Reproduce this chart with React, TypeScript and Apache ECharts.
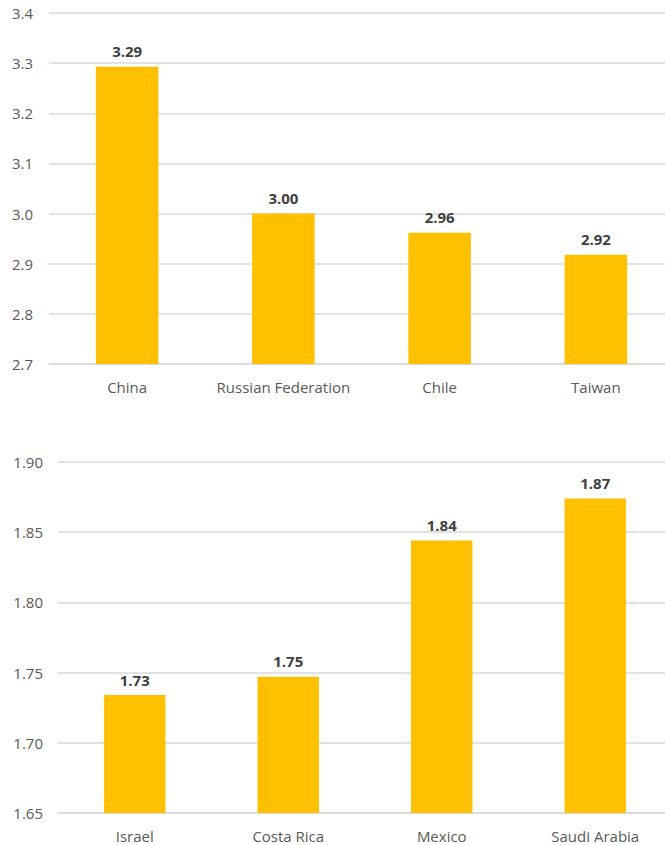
import React, { useEffect, useRef } from "react";
import * as echarts from "echarts";

const topCategories = ["China", "Russian Federation", "Chile", "Taiwan"];
const topValues = [3.293, 3.0, 2.962, 2.918];
const topTicks = { min: 2.7, max: 3.4, interval: 0.1 };

const bottomCategories = ["Israel", "Costa Rica", "Mexico", "Saudi Arabia"];
const bottomValues = [1.734, 1.747, 1.844, 1.874];
const bottomTicks = { min: 1.65, max: 1.9, interval: 0.05 };

const BAR_COLOR = "#FFC000";
const GRID_COLOR = "#D9D9D9";
const LABEL_COLOR = "#595959";
const FONT = "'Open Sans', 'Liberation Sans', sans-serif";

// The plot areas run slightly past the visible frame on the right,
// so the chart canvas is wider than the clipping frame around it.
const FRAME_W = 665;
const FRAME_H = 845;
const CANVAS_W = 685;

export default function App() {
  const ref = useRef<HTMLDivElement>(null);

  useEffect(() => {
    if (!ref.current) return;
    const chart = echarts.init(ref.current, null, { renderer: "svg" });

    const yAxisBase = (
      ticks: { min: number; max: number; interval: number },
      digits: number,
      margin: number
    ) => ({
      type: "value" as const,
      min: ticks.min,
      max: ticks.max,
      interval: ticks.interval,
      axisLine: { show: false },
      axisTick: { show: false },
      splitLine: { lineStyle: { color: GRID_COLOR, width: 1.5 } },
      axisLabel: {
        color: LABEL_COLOR,
        fontSize: 15,
        fontFamily: FONT,
        margin,
        formatter: (v: number) => v.toFixed(digits),
      },
    });

    const xAxisBase = (cats: string[]) => ({
      type: "category" as const,
      data: cats,
      axisLine: { lineStyle: { color: GRID_COLOR, width: 1.5 } },
      axisTick: { show: false },
      axisLabel: { color: LABEL_COLOR, fontSize: 15, fontFamily: FONT, margin: 15, interval: 0 },
    });

    const barSeries = (values: number[], idx: number) => ({
      type: "bar" as const,
      xAxisIndex: idx,
      yAxisIndex: idx,
      data: values,
      barWidth: "40%",
      itemStyle: { color: BAR_COLOR },
      label: {
        show: true,
        position: "top" as const,
        distance: 8,
        color: "#404040",
        fontWeight: "bold" as const,
        fontSize: 15,
        fontFamily: FONT,
        formatter: (p: any) => Number(p.value).toFixed(2),
      },
    });

    chart.setOption({
      animation: false,
      backgroundColor: "#ffffff",
      grid: [
        { left: 49, top: 13, width: 625, height: 351 },
        { left: 58, top: 462, width: 614, height: 351 },
      ],
      xAxis: [
        { ...xAxisBase(topCategories), gridIndex: 0 },
        { ...xAxisBase(bottomCategories), gridIndex: 1 },
      ],
      yAxis: [
        { ...yAxisBase(topTicks, 1, 16), gridIndex: 0 },
        { ...yAxisBase(bottomTicks, 2, 15), gridIndex: 1 },
      ],
      series: [barSeries(topValues, 0), barSeries(bottomValues, 1)],
    });

    return () => chart.dispose();
  }, []);

  return (
    <div
      style={{
        position: "fixed",
        left: 0,
        top: 0,
        width: FRAME_W,
        height: FRAME_H,
        overflow: "hidden",
        background: "#fff",
      }}
    >
      <div ref={ref} style={{ width: CANVAS_W, height: FRAME_H }} />
    </div>
  );
}
